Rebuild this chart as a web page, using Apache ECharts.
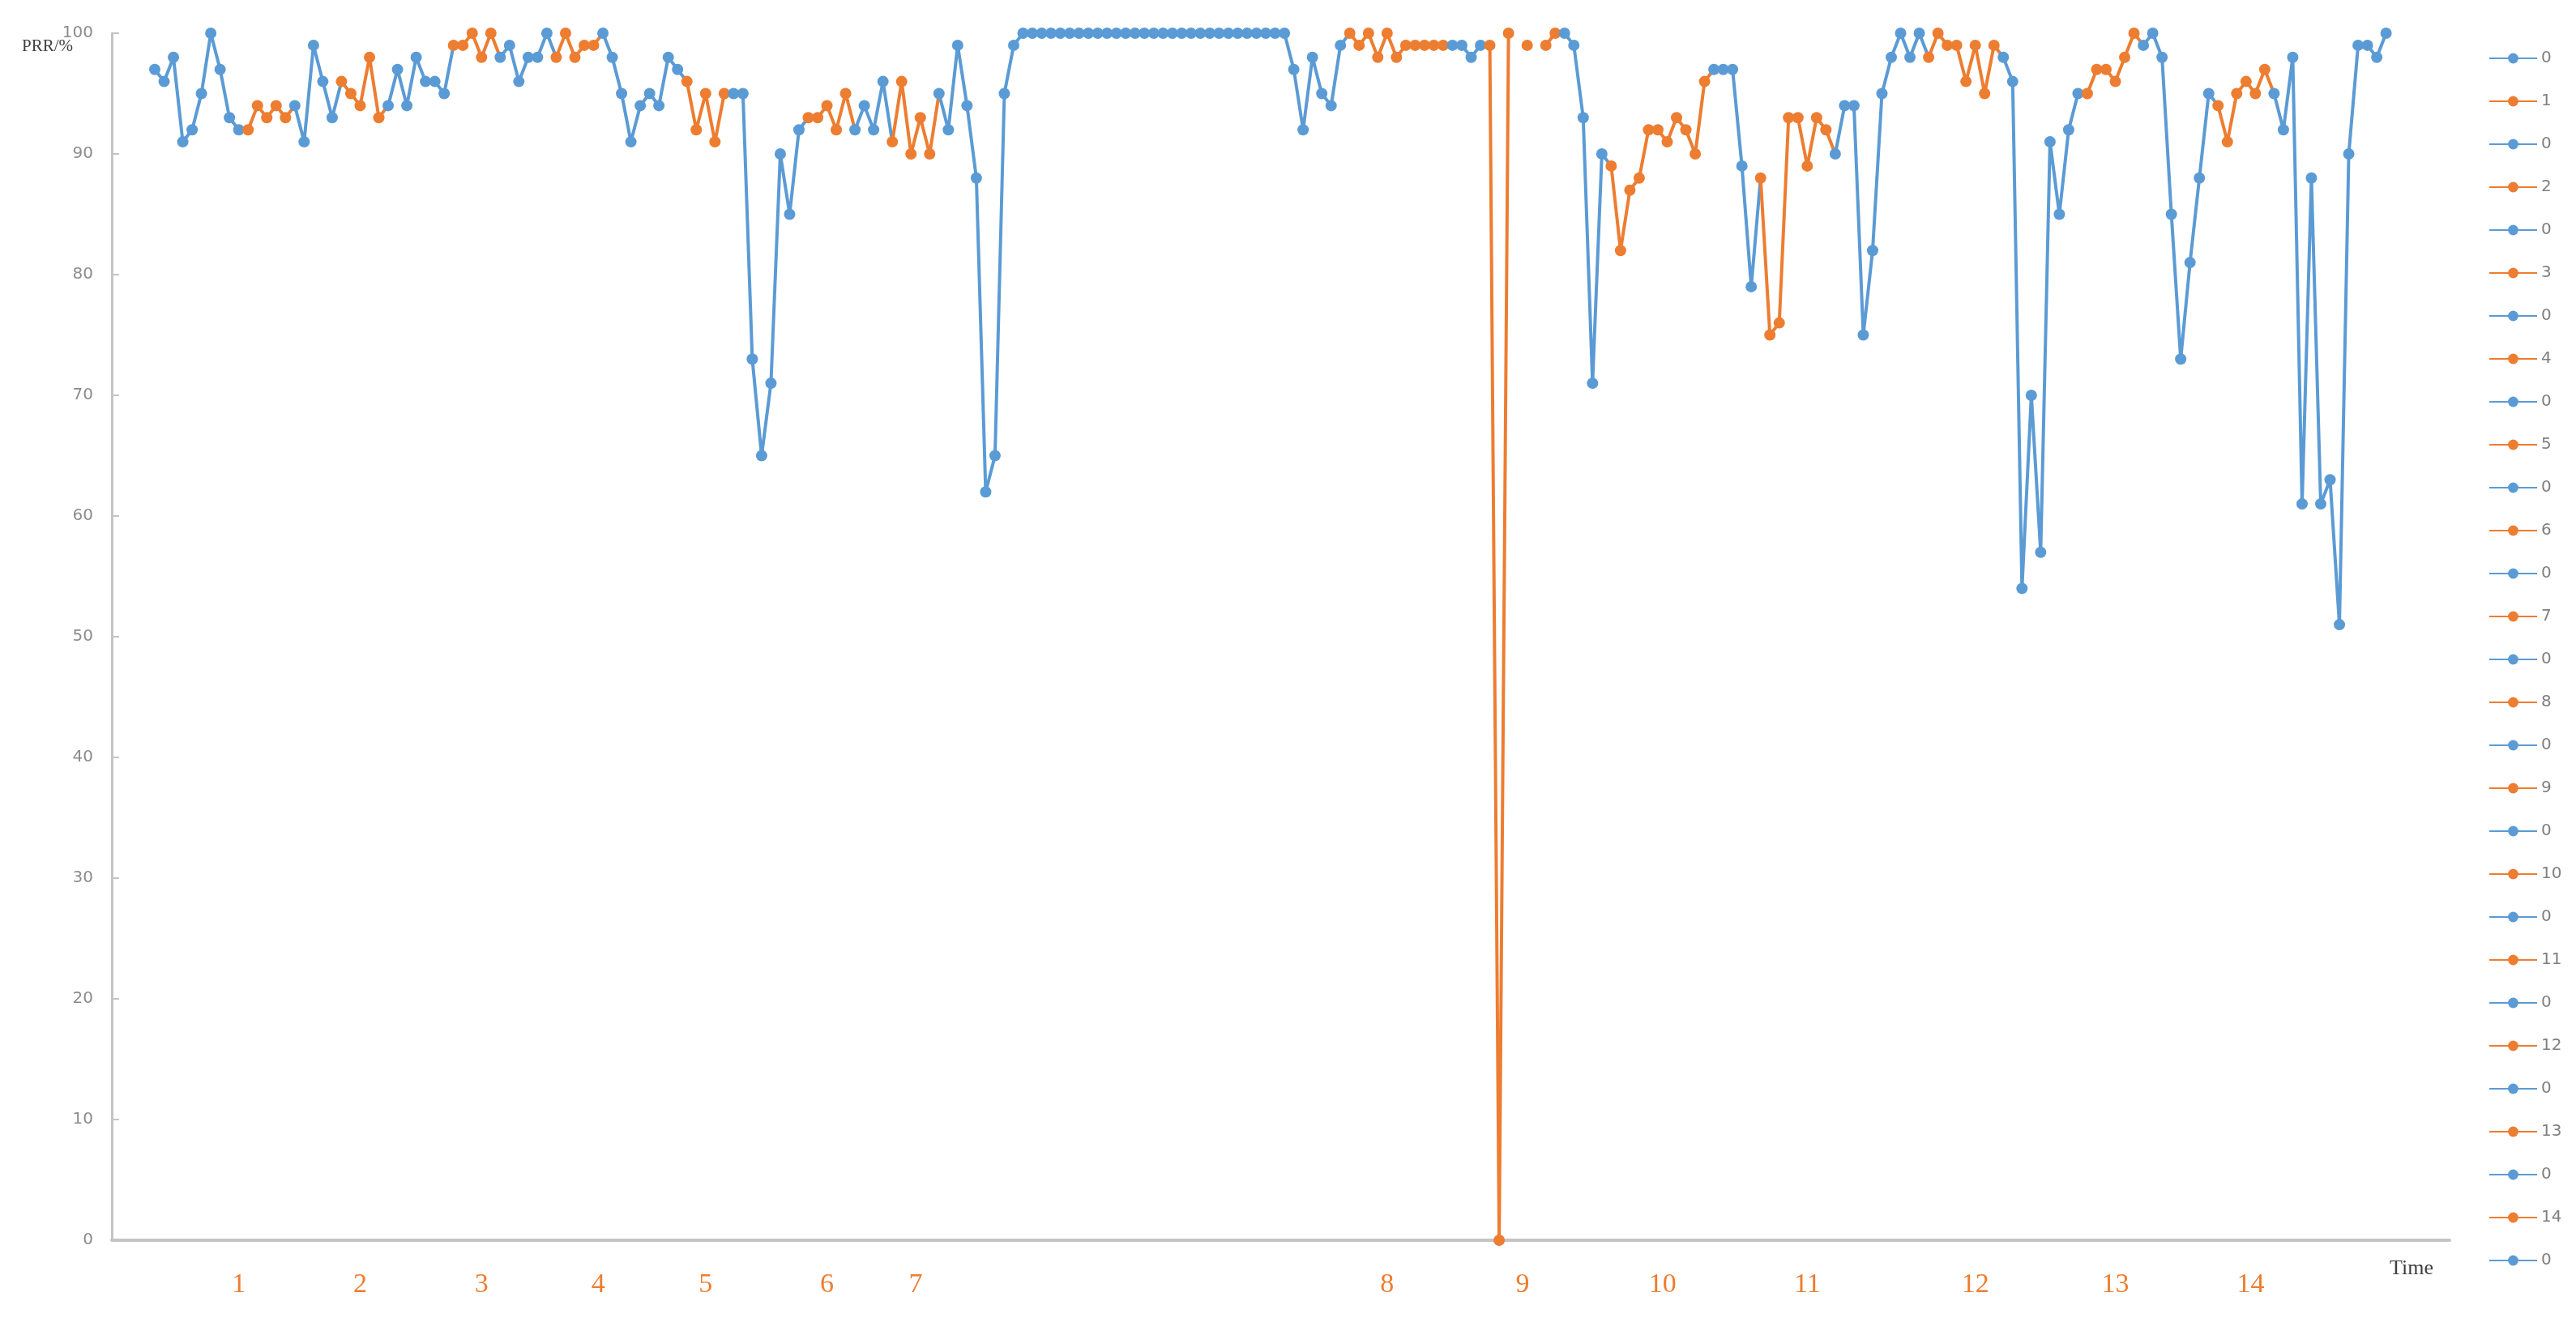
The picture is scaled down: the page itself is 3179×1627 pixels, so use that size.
<!DOCTYPE html>
<html>
<head>
<meta charset="utf-8">
<script src="https://cdn.jsdelivr.net/npm/echarts@6/dist/echarts.min.js"></script>
<style>
  html, body { margin: 0; padding: 0; background: #fff; }
  main { width: 3179px; height: 1627px; }
</style>
</head>
<body>
<main></main>
<script>
// PRR (%) per time step, one value per sample, null = no point drawn
const prr = [
  97, 96, 98, 91, 92, 95, 100, 97, 93, 92,
  92, 94, 93, 94, 93,
  94, 91, 99, 96, 93,
  96, 95, 94, 98, 93,
  94, 97, 94, 98, 96, 96, 95,
  99, 99, 100, 98, 100,
  98, 99, 96, 98, 98, 100,
  98, 100, 98, 99, 99,
  100, 98, 95, 91, 94, 95, 94, 98, 97,
  96, 92, 95, 91, 95,
  95, 95, 73, 65, 71, 90, 85, 92,
  93, 93, 94, 92, 95,
  92, 94, 92, 96,
  91, 96, 90, 93, 90,
  95, 92, 99, 94, 88, 62, 65, 95, 99,
  100, 100, 100, 100, 100, 100, 100, 100, 100, 100,
  100, 100, 100, 100, 100, 100, 100, 100, 100, 100,
  100, 100, 100, 100, 100, 100, 100, 100, 100,
  97, 92, 98, 95, 94, 99,
  100, 99, 100, 98, 100, 98, 99, 99, 99, 99, 99,
  99, 99, 98, 99,
  99, 0, 100, null, 99, null, 99, 100,
  100, 99, 93, 71, 90,
  89, 82, 87, 88, 92, 92, 91, 93, 92, 90, 96,
  97, 97, 97, 89, 79,
  88, 75, 76, 93, 93, 89, 93, 92,
  90, 94, 94, 75, 82, 95, 98, 100, 98, 100,
  98, 100, 99, 99, 96, 99, 95, 99,
  98, 96, 54, 70, 57, 91, 85, 92, 95,
  95, 97, 97, 96, 98, 100,
  99, 100, 98, 85, 73, 81, 88, 95,
  94, 91, 95, 96, 95, 97,
  95, 92, 98, 61, 88, 61, 63, 51, 90, 99, 99, 98, 100
]

// consecutive segments of the trace, and their legend names
const segLengths = [10, 5, 5, 5, 7, 5, 6, 5, 9, 5, 8, 5, 4, 5, 44, 11, 4, 8, 5, 11, 5, 8, 10, 8, 9, 6, 8, 6, 13]
const segNames = ['0', '1', '0', '2', '0', '3', '0', '4', '0', '5', '0', '6', '0', '7', '0',
  '8', '0', '9', '0', '10', '0', '11', '0', '12', '0', '13', '0', '14', '0']

// orange labels under the x axis (position in samples)
const labelPos = [10, 23, 36, 48.5, 60, 73, 82.5, 133, 147.5, 162.5, 178, 196, 211, 225.5]
const labelText = ['1', '2', '3', '4', '5', '6', '7', '8', '9', '10', '11', '12', '13', '14']

const BLUE = '#5B9BD5'
const ORANGE = '#ED7D31'

const series = []
let start = 0
segLengths.forEach((len, k) => {
  const end = start + len
  const data = []
  for (let i = start; i < end; i++) data.push([i + 1, prr[i]])
  // join to the next segment, without drawing its marker twice
  if (end < prr.length) data.push({ value: [end + 1, prr[end]], symbol: 'none' })
  const color = segNames[k] === '0' ? BLUE : ORANGE
  series.push({
    name: segNames[k] + '#' + k,
    type: 'line',
    data,
    color,
    symbol: 'circle',
    symbolSize: 14,
    showAllSymbol: true,
    lineStyle: { width: 4, color },
    itemStyle: { color },
    emphasis: { disabled: true },
    animation: false,
  })
  start = end
})

const chart = echarts.init(document.querySelector('main'))
chart.setOption({
  backgroundColor: '#fff',
  grid: { left: 138, top: 41, width: 2885, height: 1490, containLabel: false, outerBoundsMode: 'none' },
  legend: {
    orient: 'vertical',
    left: 3066,
    top: 57,
    itemWidth: 59,
    itemHeight: 16,
    itemGap: 33,
    selectedMode: false,
    formatter: (name) => name.split('#')[0],
    textStyle: { fontFamily: 'DejaVu Sans', fontSize: 20, lineHeight: 20, color: '#7f7f7f' },
  },
  xAxis: {
    type: 'value',
    min: -3.6,
    max: 246.8,
    name: 'Time',
    nameLocation: 'end',
    nameGap: -20,
    nameMoveOverlap: false,
    nameTextStyle: {
      align: 'right', verticalAlign: 'top', padding: [22, 0, 0, 0],
      fontFamily: 'Liberation Serif', fontSize: 26, color: '#404040',
    },
    axisLine: { show: true, onZero: false, lineStyle: { color: '#c4c4c4', width: 4 } },
    axisTick: { show: false },
    splitLine: { show: false },
    axisLabel: {
      customValues: labelPos,
      formatter: (v) => labelText[labelPos.indexOf(v)] || '',
      margin: 38,
      fontFamily: 'Liberation Serif',
      fontSize: 34,
      color: ORANGE,
    },
  },
  yAxis: {
    type: 'value',
    min: 0,
    max: 100,
    interval: 10,
    name: 'PRR/%',
    nameLocation: 'end',
    nameGap: 0,
    nameMoveOverlap: false,
    nameTextStyle: {
      align: 'right', verticalAlign: 'top', padding: [6, 48, 0, 0],
      fontFamily: 'Liberation Serif', fontSize: 21, color: '#404040',
    },
    axisLine: { show: true, onZero: false, lineStyle: { color: '#c4c4c4', width: 3 } },
    axisTick: { show: true, inside: true, length: 9, lineStyle: { color: '#c4c4c4', width: 2 } },
    splitLine: { show: false },
    axisLabel: { margin: 23, fontFamily: 'DejaVu Sans', fontSize: 20, color: '#8c8c8c' },
  },
  series,
})
</script>
</body>
</html>
